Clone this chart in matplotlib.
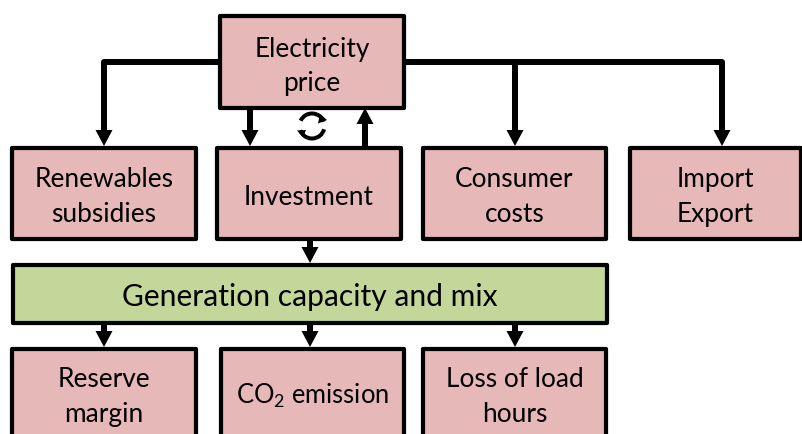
import matplotlib
matplotlib.use("Agg")
import matplotlib.pyplot as plt
from matplotlib.patches import Rectangle, Arc, Polygon

plt.rcParams['font.family'] = ['Lato', 'DejaVu Sans']
plt.rcParams['mathtext.fontset'] = 'custom'
plt.rcParams['mathtext.rm'] = 'Lato'
plt.rcParams['mathtext.default'] = 'rm'

W, H = 803, 435
PK, GR = '#E6B8B7', '#C4D79B'

# label, x0, y0, x1, y1, fill, font size, label centre y
boxes = [
    ("Electricity\nprice", 220, 16.5, 404, 108.5, PK, 18.9, 66.5),
    ("Renewables\nsubsidies", 12, 148.5, 196, 239.5, PK, 18.9, 197),
    ("Investment", 217, 148.5, 401, 239.5, PK, 18.9, 197.5),
    ("Consumer\ncosts", 423, 148.5, 606, 239.5, PK, 18.9, 197),
    ("Import\nExport", 630, 148.5, 801, 239.5, PK, 18.9, 197),
    ("Generation capacity and mix", 13, 265.5, 607, 323.5, GR, 21.6, 297),
    ("Reserve\nmargin", 12, 349.5, 196, 446, PK, 18.9, 397.5),
    ("CO$_2$ emission", 221, 349.5, 404, 446, PK, 18.4, 396),
    ("Loss of load\nhours", 423, 349.5, 606, 446, PK, 18.9, 397.5),
]

# elbow lines
elbows = [
    [(220, 62.5), (104, 62.5), (104, 132)],
    [(404, 62.5), (722, 62.5), (722, 132)],
    [(515, 62.5), (515, 132)],
]
# straight arrows: start, tip
arrows = [
    ((104, 125), (104, 147)),
    ((515, 125), (515, 147)),
    ((722, 125), (722, 147)),
    ((250, 108), (250, 147)),
    ((365, 148), (365, 109)),
    ((310, 239), (310, 264)),
    ((104, 323), (104, 348)),
    ((310, 323), (310, 348)),
    ((515, 323), (515, 348)),
]
HEAD_LEN, HEAD_HALF = 16, 8.5

fig = plt.figure(figsize=(W / 100, H / 100), dpi=100)
ax = fig.add_axes([0, 0, 1, 1])
ax.set_xlim(0, W)
ax.set_ylim(H, 0)
ax.axis('off')

px = 72 / 100
for ln in elbows:
    ax.plot([p[0] for p in ln], [p[1] for p in ln], color='k', lw=6 * px,
            solid_joinstyle='round', solid_capstyle='butt', zorder=2)
for (xa, ya), (xb, yb) in arrows:
    d = 1 if yb > ya else -1
    ax.plot([xa, xb], [ya, yb - d * HEAD_LEN], color='k', lw=6 * px,
            solid_capstyle='butt', zorder=2)
    ax.add_patch(Polygon([(xb, yb), (xb - HEAD_HALF, yb - d * HEAD_LEN),
                          (xb + HEAD_HALF, yb - d * HEAD_LEN)], fc='k', ec='none', zorder=2))

for label, x0, y0, x1, y1, fill, fs, cy in boxes:
    ax.add_patch(Rectangle((x0, y0), x1 - x0, y1 - y0, fc=fill, ec='k', lw=4.2 * px,
                           joinstyle='round', zorder=3))
    ax.text((x0 + x1) / 2, cy, label, ha='center', va='center', fontsize=fs,
            color='k', linespacing=1.5, zorder=4)

# cycle symbol
cx, cy, r = 312, 127, 12.5
ax.add_patch(Arc((cx, cy), 2 * r, 2 * r, theta1=205, theta2=340, color='k', lw=4 * px, zorder=2))
ax.add_patch(Arc((cx, cy), 2 * r, 2 * r, theta1=15, theta2=160, color='k', lw=4 * px, zorder=2))
ax.add_patch(Polygon([(318, 124.5), (327, 121), (320, 115)], fc='k', ec='none', zorder=2))
ax.add_patch(Polygon([(297, 131.5), (306, 131), (303, 138)], fc='k', ec='none', zorder=2))

fig.savefig('out.png', dpi=100)
